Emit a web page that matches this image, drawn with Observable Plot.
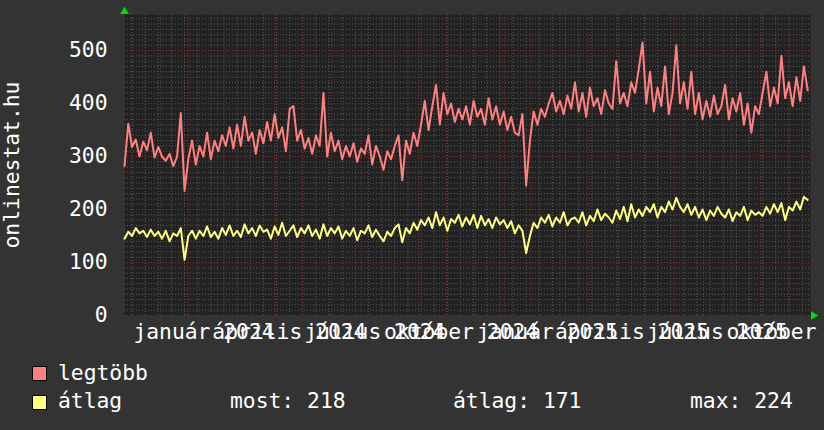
<!DOCTYPE html>
<html><head><meta charset="utf-8">
<script src="https://cdn.jsdelivr.net/npm/d3@7"></script>
<script src="https://cdn.jsdelivr.net/npm/@observablehq/plot@0.6"></script>
<style>
html,body{margin:0;padding:0;background:#333333;}
#chart svg{display:block}
#legend{position:relative;width:824px;height:85px;font-family:"DejaVu Sans Mono",monospace;font-size:21.33px;color:#fff;}
#legend .sw{position:absolute;width:13px;height:13px;border:1px solid #000;}
#legend .t{position:absolute;line-height:1;white-space:pre}
</style></head>
<body><div id="chart"></div><div id="legend"></div>
<script>
// ---- data ----
const startDay = "2023-12-24";
const endDay = "2025-12-24";
const stepDays = 4;
const legtobb = [
 282,362,318,332,300,328,312,345,298,318,
 300,292,305,282,300,382,235,295,330,285,
 320,300,345,295,330,310,340,320,355,315,
 360,320,375,330,345,305,350,325,365,330,
 380,335,355,310,390,395,330,350,315,335,
 305,340,320,420,300,345,310,330,295,320,
 300,325,290,315,305,340,285,320,300,275,
 310,295,320,340,255,330,305,345,320,360,
 405,350,395,435,360,420,380,400,365,390,
 370,395,360,405,375,390,360,410,370,395,
 360,385,350,375,345,340,380,245,330,385,
 360,390,375,400,420,385,405,380,415,390,
 440,385,420,375,430,395,410,380,425,400,
 390,480,400,420,395,440,420,465,515,400,
 460,385,430,395,470,380,420,510,400,440,
 390,460,380,420,370,405,375,415,380,395,
 435,370,410,385,420,360,400,345,395,380,
 420,460,395,430,400,490,410,440,395,450,
 405,470,425
];
const atlag = [
 145,158,150,165,155,160,148,162,150,158,
 145,160,140,155,150,165,105,150,160,145,
 160,150,168,148,158,145,165,152,170,150,
 160,148,172,155,165,150,170,158,162,145,
 168,152,175,150,160,170,148,165,155,170,
 150,162,145,172,150,165,155,168,145,160,
 150,165,142,160,155,170,148,162,150,140,
 158,150,165,172,138,165,155,175,162,180,
 170,185,165,195,170,185,160,182,175,190,
 168,185,172,190,165,188,170,182,165,185,
 172,180,165,178,155,170,160,118,150,175,
 165,185,175,190,168,185,175,195,170,182,
 185,175,195,170,188,178,200,180,192,185,
 175,198,182,205,178,210,185,200,188,205,
 195,210,185,205,195,215,200,222,205,195,
 210,190,205,185,200,180,198,188,205,192,
 185,200,178,195,188,205,180,198,190,195,
 188,205,192,210,195,212,180,205,198,215,
 200,224,218
];
const yTicks = [0,100,200,300,400,500];
const labelMonths = ["január","április","július","október","január","április","július","október"];
const labelYears  = ["2024","2024","2024","2024","2025","2025","2025","2025"];
const labelDays   = ["2024-01-01","2024-04-01","2024-07-01","2024-10-01","2025-01-01","2025-04-01","2025-07-01","2025-10-01"];
const yTitle = "onlinestat.hu";
const seriesNames = ["legtöbb","átlag"];
const seriesColors = ["#ff8080","#ffff80"];
const statLabels = ["most:","átlag:","max:"];
const statValues = [218,171,224];

// ---- build ----
const t0 = new Date(startDay), t1 = new Date(endDay);
const dates = legtobb.map((_, i) => d3.utcDay.offset(t0, i * stepDays));
const rows = [];
legtobb.forEach((v, i) => rows.push({date: dates[i], value: v, s: seriesNames[0]}));
atlag.forEach((v, i) => rows.push({date: dates[i], value: v, s: seriesNames[1]}));
const labels = labelMonths.map((m, i) => ({date: new Date(labelDays[i]), text: m + " " + labelYears[i]}));
const yMax = 568;
const minorY = d3.range(0, yMax, 10);
const minorX = d3.utcMonday.every(2).range(t0, t1);
const majorX = d3.utcMonth.range(t0, t1);
const font = "DejaVu Sans Mono";
const fs = 21.33;

const chart = Plot.plot({
  width: 824, height: 345,
  marginLeft: 124, marginRight: 14, marginTop: 14, marginBottom: 30,
  style: {background: "#333333", color: "#ffffff", fontFamily: font, overflow: "hidden"},
  x: {type: "utc", domain: [t0, t1], axis: null},
  y: {domain: [0, yMax], axis: null},
  color: {domain: seriesNames, range: seriesColors},
  marks: [
    Plot.frame({fill: "#222222", stroke: null}),
    Plot.ruleY(minorY, {stroke: "#5a5a5a", strokeDasharray: "1,2", strokeWidth: 1}),
    Plot.ruleX(minorX, {stroke: "#5a5a5a", strokeDasharray: "1,2", strokeWidth: 1}),
    Plot.ruleY(yTicks, {stroke: "#8a2c2c", strokeDasharray: "1,2", strokeWidth: 1}),
    Plot.ruleX(majorX, {stroke: "#8a2c2c", strokeDasharray: "1,2", strokeWidth: 1}),
    Plot.line(rows, {x: "date", y: "value", z: "s", stroke: "s", strokeWidth: 2, curve: "linear"}),
    Plot.text(yTicks, {x: t0, y: d => d, text: d => String(d), textAnchor: "end", dx: -17, fontSize: fs, fill: "#fff"}),
    Plot.text([yTitle], {frameAnchor: "left", text: d => d, rotate: -90, textAnchor: "middle", dx: -112, fontSize: fs, fill: "#fff"}),
    Plot.text(labels, {x: "date", text: "text", frameAnchor: "bottom", textAnchor: "middle", lineAnchor: "bottom", dx: 72, dy: 23, fontSize: fs, fill: "#fff"}),
    Plot.dot([t0], {x: d => d, y: yMax, symbol: "triangle", r: 3.2, fill: "#00dd00", stroke: null, dy: -3}),
    Plot.dot([t1], {x: d => d, y: 0, symbol: "triangle", r: 3.2, fill: "#00dd00", stroke: null, rotate: 90, dx: 3})
  ]
});
document.getElementById("chart").appendChild(chart);

// legend
const lg = document.getElementById("legend");
function add(cls, style, text) {
  const e = document.createElement("div");
  e.className = cls;
  Object.assign(e.style, style);
  if (text != null) e.textContent = text;
  lg.appendChild(e);
}
const rowTops = [21, 50];
const textTops = [17, 45];
seriesNames.forEach((n, i) => {
  add("sw", {left: "32px", top: rowTops[i] + "px", background: seriesColors[i]});
  add("t", {left: "58px", top: textTops[i] + "px"}, n);
});
const statX = [230, 453, 690];
statLabels.forEach((l, i) => add("t", {left: statX[i] + "px", top: textTops[1] + "px"}, l + " " + statValues[i]));
</script>
</body></html>
